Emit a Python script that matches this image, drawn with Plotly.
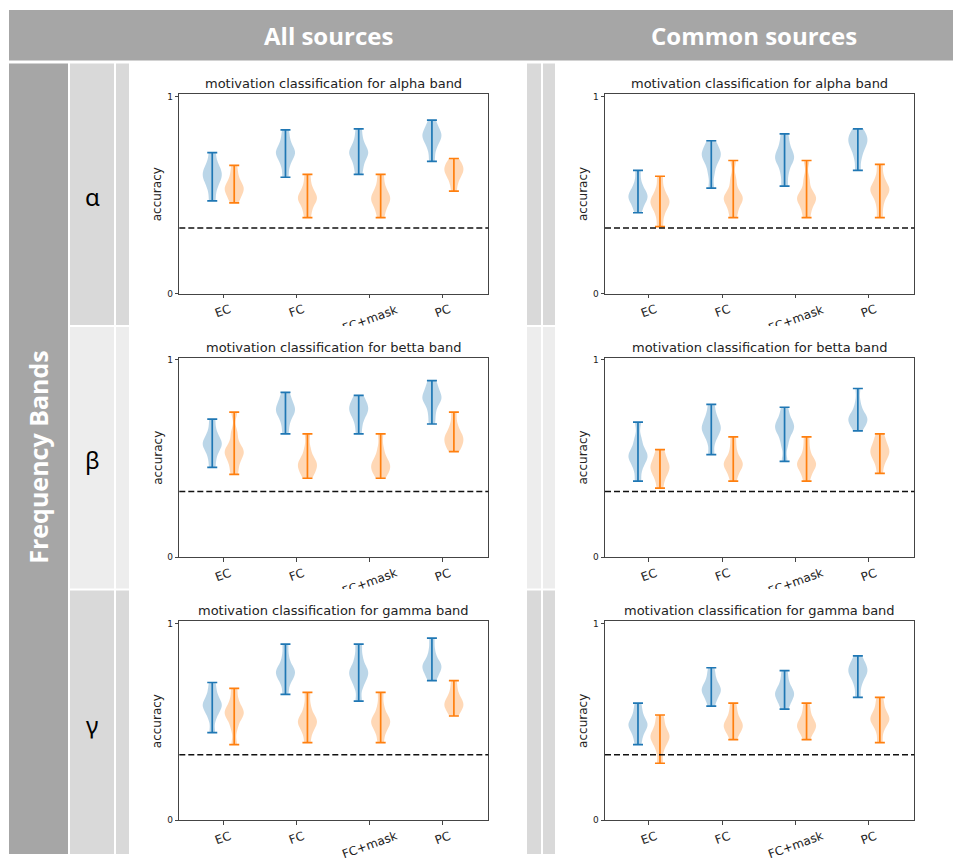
import plotly.graph_objects as go

# ---------------- data ----------------
CATEGORIES = ["EC", "FC", "FC+mask", "PC"]
COLUMN_HEADERS = ["All sources", "Common sources"]
ROW_HEADER = "Frequency Bands"
BAND_SYMBOLS = ["α", "β", "γ"]
BAND_NAMES = ["alpha", "betta", "gamma"]
Y_TICK_VALUES = [0, 1]
Y_TICK_LABELS = ["0", "1"]
CHANCE_LEVEL = 0.333

# accuracy samples per category (EC, FC, FC+mask, PC); blue = first series, orange = second
ALL_ALPHA_BLUE = [[0.47, 0.53, 0.57, 0.59, 0.61, 0.63, 0.66, 0.715],
                  [0.59, 0.65, 0.69, 0.71, 0.72, 0.74, 0.78, 0.83],
                  [0.605, 0.65, 0.69, 0.71, 0.72, 0.74, 0.78, 0.835],
                  [0.67, 0.73, 0.77, 0.79, 0.80, 0.82, 0.84, 0.88]]
ALL_ALPHA_ORANGE = [[0.46, 0.49, 0.52, 0.53, 0.54, 0.56, 0.60, 0.65],
                    [0.385, 0.43, 0.47, 0.48, 0.49, 0.51, 0.55, 0.605],
                    [0.385, 0.43, 0.46, 0.48, 0.49, 0.51, 0.55, 0.605],
                    [0.52, 0.57, 0.60, 0.62, 0.63, 0.64, 0.66, 0.685]]
COMMON_ALPHA_BLUE = [[0.41, 0.45, 0.48, 0.49, 0.50, 0.52, 0.56, 0.625],
                     [0.535, 0.61, 0.66, 0.69, 0.70, 0.72, 0.74, 0.775],
                     [0.545, 0.61, 0.66, 0.68, 0.70, 0.72, 0.76, 0.81],
                     [0.625, 0.69, 0.73, 0.76, 0.77, 0.79, 0.81, 0.835]]
COMMON_ALPHA_ORANGE = [[0.34, 0.40, 0.44, 0.46, 0.47, 0.49, 0.53, 0.595],
                       [0.385, 0.43, 0.47, 0.48, 0.49, 0.52, 0.58, 0.675],
                       [0.385, 0.43, 0.47, 0.48, 0.49, 0.52, 0.58, 0.675],
                       [0.385, 0.45, 0.50, 0.52, 0.53, 0.55, 0.59, 0.655]]
ALL_BETTA_BLUE = [[0.455, 0.51, 0.55, 0.57, 0.58, 0.60, 0.64, 0.70],
                  [0.625, 0.68, 0.72, 0.74, 0.75, 0.77, 0.80, 0.835],
                  [0.625, 0.68, 0.72, 0.74, 0.75, 0.77, 0.79, 0.82],
                  [0.675, 0.73, 0.78, 0.80, 0.81, 0.83, 0.86, 0.895]]
ALL_BETTA_ORANGE = [[0.42, 0.47, 0.51, 0.53, 0.54, 0.57, 0.63, 0.735],
                    [0.40, 0.43, 0.45, 0.47, 0.48, 0.50, 0.55, 0.625],
                    [0.40, 0.43, 0.45, 0.46, 0.48, 0.50, 0.55, 0.625],
                    [0.535, 0.56, 0.58, 0.60, 0.61, 0.63, 0.67, 0.735]]
COMMON_BETTA_BLUE = [[0.385, 0.45, 0.49, 0.51, 0.52, 0.55, 0.60, 0.685],
                     [0.52, 0.59, 0.63, 0.65, 0.66, 0.69, 0.72, 0.775],
                     [0.485, 0.57, 0.62, 0.65, 0.66, 0.68, 0.71, 0.76],
                     [0.64, 0.67, 0.69, 0.70, 0.71, 0.73, 0.78, 0.855]]
COMMON_BETTA_ORANGE = [[0.35, 0.40, 0.43, 0.45, 0.46, 0.48, 0.51, 0.545],
                       [0.385, 0.43, 0.46, 0.47, 0.48, 0.50, 0.55, 0.61],
                       [0.385, 0.43, 0.46, 0.47, 0.48, 0.50, 0.55, 0.61],
                       [0.425, 0.48, 0.51, 0.53, 0.54, 0.56, 0.59, 0.625]]
ALL_GAMMA_BLUE = [[0.445, 0.52, 0.56, 0.58, 0.59, 0.61, 0.65, 0.70],
                  [0.64, 0.70, 0.73, 0.75, 0.76, 0.78, 0.83, 0.895],
                  [0.605, 0.68, 0.72, 0.74, 0.76, 0.78, 0.83, 0.895],
                  [0.71, 0.74, 0.77, 0.78, 0.79, 0.81, 0.86, 0.925]]
ALL_GAMMA_ORANGE = [[0.385, 0.47, 0.52, 0.54, 0.55, 0.57, 0.61, 0.67],
                    [0.395, 0.45, 0.48, 0.50, 0.51, 0.53, 0.58, 0.65],
                    [0.395, 0.45, 0.48, 0.50, 0.51, 0.53, 0.58, 0.65],
                    [0.53, 0.56, 0.58, 0.59, 0.60, 0.62, 0.66, 0.71]]
COMMON_GAMMA_BLUE = [[0.385, 0.43, 0.47, 0.48, 0.49, 0.51, 0.55, 0.595],
                     [0.58, 0.62, 0.65, 0.66, 0.67, 0.69, 0.73, 0.775],
                     [0.565, 0.60, 0.63, 0.64, 0.65, 0.67, 0.71, 0.76],
                     [0.625, 0.69, 0.73, 0.75, 0.76, 0.78, 0.80, 0.835]]
COMMON_GAMMA_ORANGE = [[0.29, 0.36, 0.40, 0.42, 0.43, 0.45, 0.49, 0.535],
                       [0.41, 0.45, 0.47, 0.48, 0.49, 0.51, 0.55, 0.595],
                       [0.41, 0.45, 0.47, 0.48, 0.49, 0.51, 0.55, 0.595],
                       [0.395, 0.46, 0.50, 0.51, 0.52, 0.54, 0.58, 0.625]]

# ---------------- styling / geometry ----------------
W, H = 953, 859
BLUE = (31, 119, 180)
ORANGE = (255, 127, 14)
GRAY_DARK = "#a6a6a6"
ROW_FILLS = ["#d9d9d9", "#ededed", "#d9d9d9"]
ROW_SPANS = [(61, 325), (327, 591), (593, 859)]
COL_AXES_PX = [(179.3, 488.3), (605.0, 914.3)]
ROW_AXES_PX = [(92.3, 293.3), (358.3, 559.3), (624.3, 825.0)]
PANEL_FONT = "DejaVu Sans"
HEAD_FONT = "Open Sans"
OFFSET = 0.15
VIOLIN_WIDTH = 0.26
BANDWIDTH = 0.03

PANELS = [
    (0, 0, ALL_ALPHA_BLUE, ALL_ALPHA_ORANGE),
    (0, 1, COMMON_ALPHA_BLUE, COMMON_ALPHA_ORANGE),
    (1, 0, ALL_BETTA_BLUE, ALL_BETTA_ORANGE),
    (1, 1, COMMON_BETTA_BLUE, COMMON_BETTA_ORANGE),
    (2, 0, ALL_GAMMA_BLUE, ALL_GAMMA_ORANGE),
    (2, 1, COMMON_GAMMA_BLUE, COMMON_GAMMA_ORANGE),
]


def fx(p):
    return p / W


def fy(p):
    return 1 - p / H


def rgba(c, a):
    return "rgba(%d,%d,%d,%s)" % (c[0], c[1], c[2], a)


fig = go.Figure()
shapes = []
annotations = []


def rect(x0, y0, x1, y1, color):
    shapes.append(dict(type="rect", xref="paper", yref="paper",
                       x0=fx(x0), x1=fx(x1), y0=fy(y1), y1=fy(y0),
                       fillcolor=color, line=dict(width=0), layer="below"))


# table background
rect(9, 7, 953, 58, GRAY_DARK)
rect(9, 61, 68, 859, GRAY_DARK)
for (y0, y1), fill in zip(ROW_SPANS, ROW_FILLS):
    for (x0, x1) in [(70, 114), (116, 129), (527, 541), (543, 555)]:
        rect(x0, y0, x1, y1, fill)

# header texts
for text, cx in zip(COLUMN_HEADERS, [328, 754]):
    annotations.append(dict(xref="paper", yref="paper", x=fx(cx), y=fy(33),
                            text="<b>%s</b>" % text, showarrow=False,
                            font=dict(family=HEAD_FONT, size=24, color="white"),
                            xanchor="center", yanchor="middle"))
annotations.append(dict(xref="paper", yref="paper", x=fx(38), y=fy(459),
                        text="<b>%s</b>" % ROW_HEADER, showarrow=False, textangle=-90,
                        font=dict(family=HEAD_FONT, size=25, color="white"),
                        xanchor="center", yanchor="middle"))
for sym, (y0, y1) in zip(BAND_SYMBOLS, ROW_SPANS):
    annotations.append(dict(xref="paper", yref="paper", x=fx(92), y=fy((y0 + y1) / 2 + 2),
                            text=sym, showarrow=False,
                            font=dict(family="Noto Sans", size=24, color="black"),
                            xanchor="center", yanchor="middle"))

layout_axes = {}
for i, (r, c, blue, orange) in enumerate(PANELS):
    n = "" if i == 0 else str(i + 1)
    xa, ya = "x" + n, "y" + n
    (xl, xr), (yt, yb) = COL_AXES_PX[c], ROW_AXES_PX[r]
    axis_common = dict(showline=True, mirror=True, linecolor="#444", linewidth=1,
                       showgrid=False, zeroline=False, ticks="outside", ticklen=3.5,
                       tickcolor="#444", tickwidth=1)
    layout_axes["xaxis" + n] = dict(domain=[fx(xl), fx(xr)], anchor=ya, range=[0.4, 4.62],
                                    tickvals=list(range(1, len(CATEGORIES) + 1)),
                                    showticklabels=False, fixedrange=True, **axis_common)
    layout_axes["yaxis" + n] = dict(domain=[fy(yb), fy(yt)], anchor=xa, range=[0, 1.01],
                                    tickvals=Y_TICK_VALUES, ticktext=Y_TICK_LABELS,
                                    tickfont=dict(family=PANEL_FONT, size=9, color="#222"),
                                    fixedrange=True, **axis_common)

    for vals, color, off in [(blue, BLUE, -OFFSET), (orange, ORANGE, OFFSET)]:
        for j, samples in enumerate(vals):
            pos = j + 1 + off
            fig.add_trace(go.Violin(x=[pos] * len(samples), y=samples, xaxis=xa, yaxis=ya,
                                    width=VIOLIN_WIDTH, spanmode="hard", bandwidth=BANDWIDTH,
                                    scalemode="width", side="both", points=False,
                                    fillcolor=rgba(color, 0.3),
                                    line=dict(width=0, color=rgba(color, 0.3)),
                                    hoverinfo="skip", showlegend=False))
            lo, hi = min(samples), max(samples)
            mid = (lo + hi) / 2
            fig.add_trace(go.Scatter(x=[pos], y=[mid], xaxis=xa, yaxis=ya, mode="markers",
                                     marker=dict(size=1, color="rgba(0,0,0,0)"),
                                     error_y=dict(type="data", symmetric=False,
                                                  array=[hi - mid], arrayminus=[mid - lo],
                                                  width=5, thickness=1.7, color=rgba(color, 1)),
                                     hoverinfo="skip", showlegend=False))

    # chance level
    shapes.append(dict(type="line", xref=xa + " domain", yref=ya, x0=0, x1=1,
                       y0=CHANCE_LEVEL, y1=CHANCE_LEVEL, layer="above",
                       line=dict(color="#111", width=1.5, dash="6px,3px")))
    # title
    annotations.append(dict(xref=xa + " domain", yref=ya + " domain", x=0.5, y=1,
                            text="motivation classification for %s band" % BAND_NAMES[r],
                            showarrow=False, xanchor="center", yanchor="bottom", yshift=1,
                            font=dict(family=PANEL_FONT, size=13, color="#222")))
    # y label
    annotations.append(dict(xref=xa + " domain", yref=ya + " domain", x=0, y=0.5,
                            xshift=-22, text="accuracy", textangle=-90, showarrow=False,
                            xanchor="center", yanchor="middle",
                            font=dict(family=PANEL_FONT, size=12, color="#222")))
    # rotated category labels
    for j, cat in enumerate(CATEGORIES):
        annotations.append(dict(xref=xa, yref=ya + " domain", x=j + 1, y=0, yshift=-6,
                                text=cat, textangle=-20, showarrow=False,
                                xanchor="center", yanchor="top",
                                font=dict(family=PANEL_FONT, size=12, color="#222")))

# white covers that crop the bottom of the first two rows' screenshots
for (y0, y1) in ROW_SPANS[:2]:
    for (x0, x1) in [(131, 526), (556, 953)]:
        annotations.append(dict(xref="paper", yref="paper", x=fx(x0), y=fy(y1 + 1),
                                xanchor="left", yanchor="top", text=" ", showarrow=False,
                                width=x1 - x0, height=10, bgcolor="white", borderpad=0,
                                borderwidth=0))

fig.update_layout(width=W, height=H, margin=dict(l=0, r=0, t=0, b=0),
                  paper_bgcolor="white", plot_bgcolor="white",
                  violinmode="overlay", violingap=0, violingroupgap=0,
                  shapes=shapes, annotations=annotations, **layout_axes)

fig.write_html("out.html", config={"displayModeBar": False},
               post_script="document.body.style.margin='0';"
                           "document.body.style.overflow='hidden';")
